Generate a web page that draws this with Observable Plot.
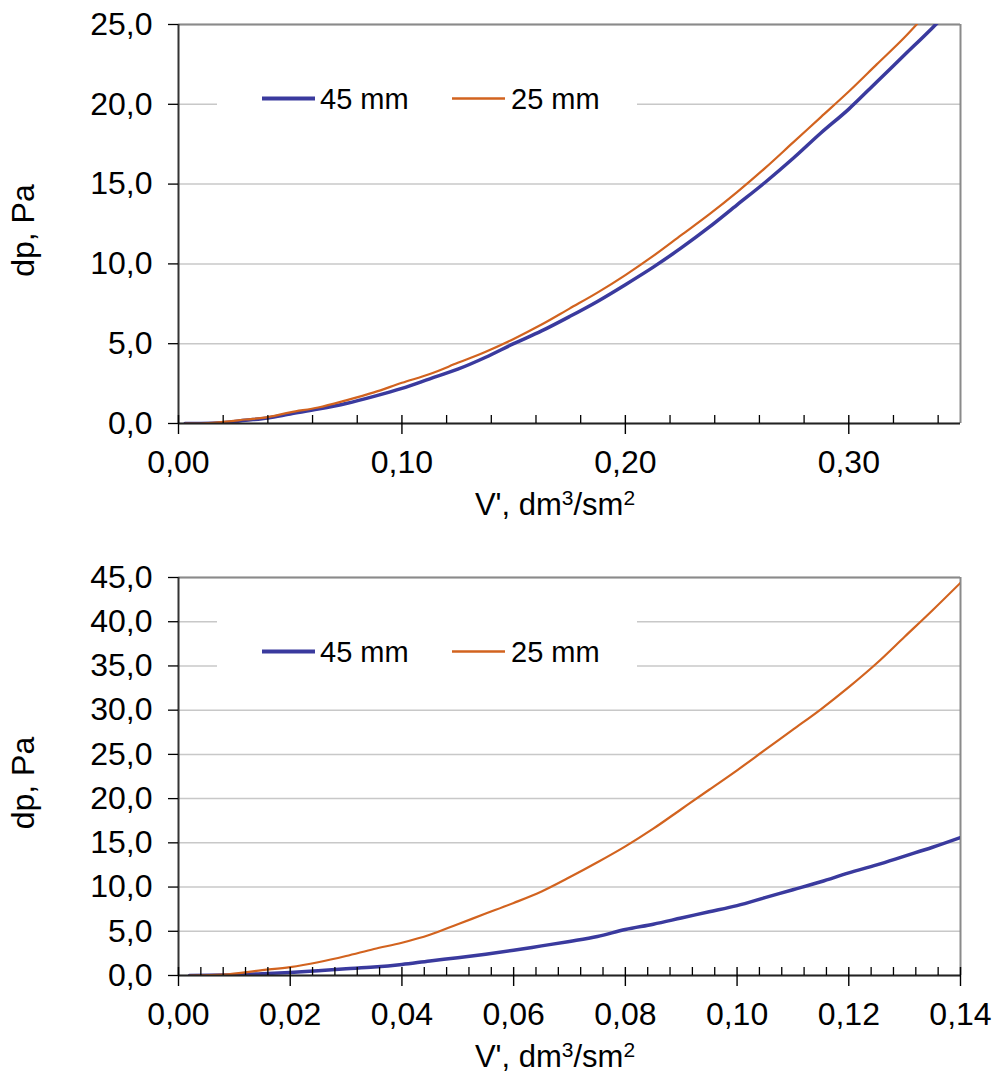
<!DOCTYPE html>
<html><head><meta charset="utf-8">
<script src="https://cdn.jsdelivr.net/npm/d3@7"></script>
<script src="https://cdn.jsdelivr.net/npm/@observablehq/plot@0.6"></script>
<style>body{margin:0;background:#fff} svg{display:block}</style>
</head><body><div id="chart"></div>
<script>
const seriesNames = ["45 mm", "25 mm"];
const seriesColors = ["#3a3a9e", "#d2631f"];
const xTitle = ["V', dm", "3", "/sm", "2"];
const yTitle = "dp, Pa";

// top chart
const topV = [0.003, 0.010, 0.020, 0.030, 0.040, 0.050, 0.0625, 0.075, 0.0875, 0.100, 0.1125, 0.125, 0.1375, 0.150, 0.1625, 0.175, 0.1875, 0.200, 0.2125, 0.225, 0.2375, 0.250, 0.2625, 0.275, 0.2875, 0.300, 0.3125, 0.325, 0.3375, 0.350];
const topDp45 = [0.0, 0.0, 0.05, 0.2, 0.35, 0.6, 0.9, 1.25, 1.7, 2.2, 2.8, 3.4, 4.15, 5.0, 5.8, 6.7, 7.65, 8.7, 9.8, 11.0, 12.3, 13.7, 15.1, 16.6, 18.2, 19.7, 21.4, 23.1, 24.8, 26.6];
const topDp25 = [0.0, 0.0, 0.1, 0.25, 0.4, 0.7, 1.0, 1.45, 1.95, 2.55, 3.1, 3.8, 4.5, 5.3, 6.2, 7.2, 8.2, 9.3, 10.5, 11.8, 13.1, 14.5, 16.0, 17.6, 19.2, 20.8, 22.5, 24.2, 26.1, 28.0];
const topXDomain = [0, 0.35];
const topYDomain = [0, 25];
const topXTicks = [0, 0.10, 0.20, 0.30];
const topXMinor = [0.02, 0.04, 0.06, 0.08, 0.12, 0.14, 0.16, 0.18, 0.22, 0.24, 0.26, 0.28, 0.32, 0.34];
const topYTicks = [0, 5, 10, 15, 20, 25];

// bottom chart
const botV = [0.002, 0.008, 0.015, 0.020, 0.025, 0.030, 0.035, 0.040, 0.045, 0.050, 0.055, 0.060, 0.065, 0.070, 0.075, 0.080, 0.085, 0.090, 0.095, 0.100, 0.105, 0.110, 0.115, 0.120, 0.125, 0.130, 0.135, 0.140];
const botDp45 = [0.0, 0.05, 0.2, 0.35, 0.55, 0.75, 0.95, 1.25, 1.65, 2.0, 2.4, 2.85, 3.35, 3.85, 4.4, 5.2, 5.8, 6.5, 7.2, 7.9, 8.8, 9.7, 10.6, 11.6, 12.5, 13.5, 14.5, 15.6];
const botDp25 = [0.0, 0.1, 0.6, 0.95, 1.5, 2.2, 3.0, 3.7, 4.6, 5.8, 7.0, 8.2, 9.5, 11.1, 12.8, 14.6, 16.6, 18.8, 21.0, 23.2, 25.5, 27.8, 30.1, 32.6, 35.3, 38.3, 41.3, 44.4];
const botXDomain = [0, 0.14];
const botYDomain = [0, 45];
const botXTicks = [0, 0.02, 0.04, 0.06, 0.08, 0.10, 0.12, 0.14];
const botXMinor = [0.004, 0.008, 0.012, 0.016, 0.024, 0.028, 0.032, 0.036, 0.044, 0.048, 0.052, 0.056, 0.064, 0.068, 0.072, 0.076, 0.084, 0.088, 0.092, 0.096, 0.104, 0.108, 0.112, 0.116, 0.124, 0.128, 0.132, 0.136];
const botYTicks = [0, 5, 10, 15, 20, 25, 30, 35, 40, 45];

const FONT = "'Liberation Sans', Arial, Helvetica, sans-serif";

function makeChart({height, marginTop, marginBottom, xDomain, yDomain, xTicks, xMinor, yTicks, xDigits, v, dp45, dp25}) {
  const marginLeft = 178, marginRight = 34, width = 994;
  const plotH = height - marginTop - marginBottom;
  const d45 = v.map((x, i) => ({v: x, dp: dp45[i]}));
  const d25 = v.map((x, i) => ({v: x, dp: dp25[i]}));
  const svg = Plot.plot({
    width, height, marginLeft, marginRight, marginTop, marginBottom,
    style: {fontFamily: FONT, fontSize: "32px", color: "#000", background: "#fff", overflow: "visible"},
    x: {domain: xDomain},
    y: {domain: yDomain},
    marks: [
      Plot.gridY(yTicks, {stroke: "#c8c8c8", strokeOpacity: 1, strokeWidth: 1.5}),
      Plot.ruleY([yDomain[1]], {stroke: "#8a8a8a", strokeWidth: 2}),
      Plot.ruleX([xDomain[1]], {stroke: "#8a8a8a", strokeWidth: 2}),
      Plot.line(d45, {x: "v", y: "dp", stroke: seriesColors[0], strokeWidth: 3.5, clip: true, curve: "monotone-x"}),
      Plot.line(d25, {x: "v", y: "dp", stroke: seriesColors[1], strokeWidth: 2.2, clip: true, curve: "monotone-x"}),
      Plot.ruleX([xDomain[0]], {stroke: "#333", strokeWidth: 2}),
      Plot.ruleY([yDomain[0]], {stroke: "#222", strokeWidth: 2}),
      Plot.tickX(xMinor, {x: d => d, insetTop: plotH - 8, stroke: "#000", strokeWidth: 1.3}),
      Plot.tickX(xTicks, {x: d => d, insetTop: plotH - 8, insetBottom: -11, stroke: "#000", strokeWidth: 1.4}),
      Plot.axisX(xTicks, {tickSize: 0, tickPadding: 27, tickFormat: d => d.toFixed(xDigits).replace(".", ","), fontSize: 32, label: null}),
      Plot.axisY(yTicks, {tickSize: 10, tickPadding: 16, tickFormat: d => d.toFixed(1).replace(".", ","), fontSize: 32, strokeWidth: 1.3, label: null})
    ]
  });
  const s = d3.select(svg);
  // y title
  s.append("text")
    .attr("transform", `translate(34,${marginTop + plotH / 2 + 7}) rotate(-90)`)
    .attr("text-anchor", "middle")
    .attr("font-family", FONT).attr("font-size", 32).attr("fill", "#000")
    .text(yTitle);
  // x title
  const t = s.append("text")
    .attr("x", 555).attr("y", marginTop + plotH + 92)
    .attr("text-anchor", "middle")
    .attr("font-family", FONT).attr("font-size", 31).attr("fill", "#000");
  t.append("tspan").text(xTitle[0]);
  t.append("tspan").attr("dy", -10).attr("font-size", 21).text(xTitle[1]);
  t.append("tspan").attr("dy", 10).text(xTitle[2]);
  t.append("tspan").attr("dy", -10).attr("font-size", 21).text(xTitle[3]);
  // legend
  const lg = s.append("g").attr("font-family", FONT).attr("font-size", 29).attr("fill", "#000").attr("text-anchor", "start");
  lg.append("rect").attr("x", 217).attr("y", marginTop + 35).attr("width", 420).attr("height", 80).attr("fill", "#fff");
  const ly = marginTop + 74.5;
  const items = [{x1: 262, x2: 315, tx: 320, w: 4}, {x1: 452, x2: 505, tx: 511, w: 2.5}];
  items.forEach((it, i) => {
    lg.append("line").attr("x1", it.x1).attr("x2", it.x2).attr("y1", ly).attr("y2", ly)
      .attr("stroke", seriesColors[i]).attr("stroke-width", it.w);
    lg.append("text").attr("x", it.tx).attr("y", ly + 10.5).attr("text-anchor", "start").text(seriesNames[i]);
  });
  return svg;
}

const root = document.getElementById("chart");
root.appendChild(makeChart({height: 540, marginTop: 24, marginBottom: 117, xDomain: topXDomain, yDomain: topYDomain, xTicks: topXTicks, xMinor: topXMinor, yTicks: topYTicks, xDigits: 2, v: topV, dp45: topDp45, dp25: topDp25}));
root.appendChild(makeChart({height: 535, marginTop: 37, marginBottom: 100, xDomain: botXDomain, yDomain: botYDomain, xTicks: botXTicks, xMinor: botXMinor, yTicks: botYTicks, xDigits: 2, v: botV, dp45: botDp45, dp25: botDp25}));
</script></body></html>
